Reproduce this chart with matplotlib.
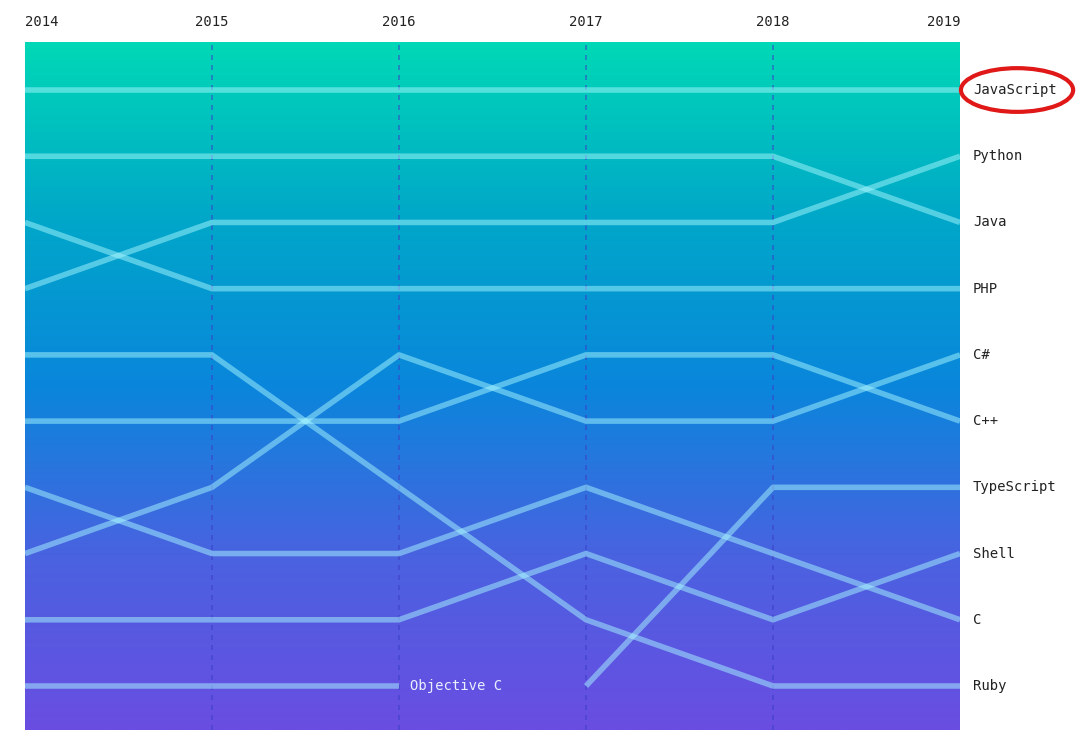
import matplotlib.pyplot as plt
import numpy as np
from matplotlib.colors import LinearSegmentedColormap
from matplotlib.patches import Ellipse

years = [2014, 2015, 2016, 2017, 2018, 2019]
languages = ["JavaScript", "Java", "Python", "PHP", "Ruby", "C++", "C", "C#",
             "Shell", "Objective C", "TypeScript"]
ranks = {
    "JavaScript": [1, 1, 1, 1, 1, 1],
    "Java": [2, 2, 2, 2, 2, 3],
    "Python": [4, 3, 3, 3, 3, 2],
    "PHP": [3, 4, 4, 4, 4, 4],
    "Ruby": [5, 5, 7, 9, 10, 10],
    "C++": [6, 6, 6, 5, 5, 6],
    "C": [7, 8, 8, 7, 8, 9],
    "C#": [8, 7, 5, 6, 6, 5],
    "Shell": [9, 9, 9, 8, 9, 8],
    "Objective C": [10, 10, 10, None, None, None],
    "TypeScript": [None, None, None, 10, 7, 7],
}

W, H = 1080, 747
fig = plt.figure(figsize=(W / 100, H / 100), dpi=100)
fig.patch.set_facecolor("white")
ax = fig.add_axes([25 / W, 17 / H, 935 / W, 688 / H])

ytop, ybot = 1 - 48 / 66.2, 10 + 44 / 66.2
cmap = LinearSegmentedColormap.from_list(
    "g", ["#00d8b6", "#00a8c8", "#0a86dc", "#4a62e0", "#6a4de2"])
grad = np.linspace(0, 1, 256).reshape(-1, 1)
ax.imshow(grad, cmap=cmap, aspect="auto", extent=[2014, 2019, ybot, ytop], zorder=0)
ax.set_xlim(2014, 2019)
ax.set_ylim(ybot, ytop)

for y in years[1:-1]:
    ax.axvline(y, color="#3a3fc8", lw=1.2, ls=(0, (3, 3)), alpha=0.6, zorder=1)

for lang in languages:
    xs = [x for x, r in zip(years, ranks[lang]) if r is not None]
    rs = [r for r in ranks[lang] if r is not None]
    ax.plot(xs, rs, color="#a8f8ff", lw=4, alpha=0.5, solid_capstyle="butt", zorder=2)

mono = "DejaVu Sans Mono"
for lang in languages:
    r = ranks[lang][-1]
    if r is not None:
        ax.text(2019 + 0.07, r, lang, ha="left", va="center", family=mono,
                fontsize=10, color="#222222", clip_on=False)
ax.text(2016.06, 10, "Objective C", ha="left", va="center", family=mono,
        fontsize=10, color="#e8f0ff", zorder=3)

for y in years:
    ha = "left" if y == 2014 else ("right" if y == 2019 else "center")
    ax.text(y, ytop - 0.3, str(y), ha=ha, va="center", family=mono,
            fontsize=10, color="#222222", clip_on=False)

ax.add_patch(Ellipse((2019.305, 1.0), 0.6, 0.66, fill=False, ec="#e01818",
                     lw=3, clip_on=False, zorder=5))

ax.axis("off")
fig.savefig("out.png", dpi=100)
